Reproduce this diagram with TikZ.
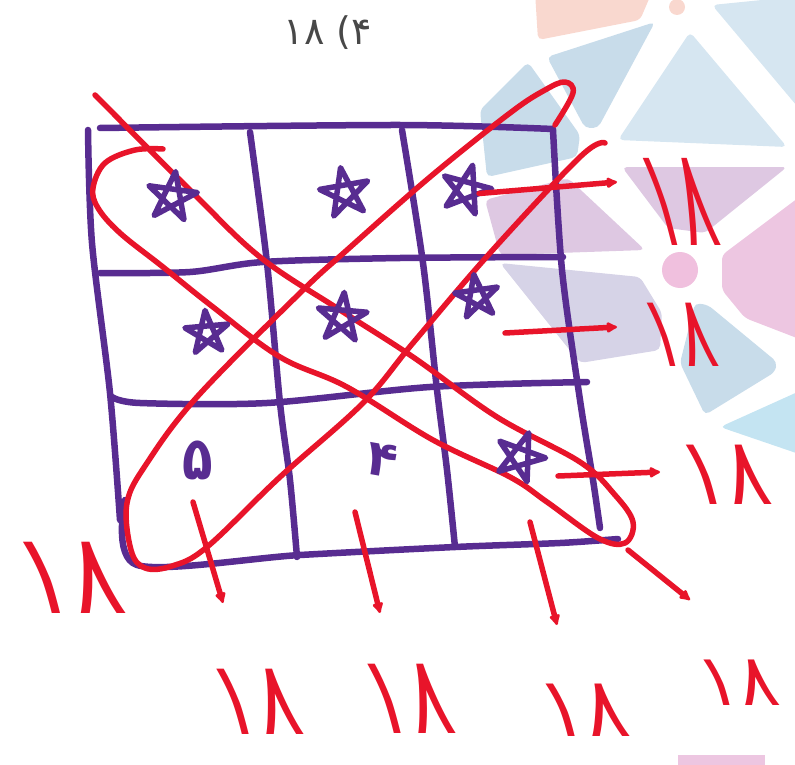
\documentclass[tikz,border=0pt]{standalone}
\usepackage{fontspec}
\usetikzlibrary{arrows.meta,shapes.geometric}
\TeXXeTstate=1
\newfontfamily\digitfont{DejaVu Sans}
\definecolor{penred}{RGB}{232,20,42}
\definecolor{penpurple}{RGB}{88,44,145}
\definecolor{titlegrey}{RGB}{72,72,72}
\definecolor{wmsalmon}{RGB}{249,216,207}
\definecolor{wmlight}{RGB}{214,230,241}
\definecolor{wmblue}{RGB}{200,220,234}
\definecolor{wmmauve}{RGB}{222,200,226}
\definecolor{wmlav}{RGB}{214,211,231}
\definecolor{wmpink}{RGB}{237,198,225}
\definecolor{wmhub}{RGB}{240,192,222}
\definecolor{wmcyan}{RGB}{196,228,242}

\begin{document}
\begin{tikzpicture}[x=1pt,y=-1pt,
   gridline/.style={draw=penpurple, line width=6.5pt, line cap=round, line join=round},
   redline/.style={draw=penred, line width=5.5pt, line cap=round, line join=round},
   arr/.style={redline, -{Latex[length=13pt,width=13pt,round]}},
   starmark/.style={star, star points=5, star point ratio=2.6, minimum size=50pt, inner sep=0pt},
   starpen/.style={draw=penpurple, line width=5.5pt, line join=round, line cap=round},
   sumlabel/.style={text=penred, font=\digitfont\fontsize{78}{78}\selectfont,
                    inner sep=0pt, xslant=-0.25},
   cellnum/.style={text=penpurple, font=\digitfont\bfseries\fontsize{50}{50}\selectfont, inner sep=0pt},
   wm/.style={rounded corners=5pt}]
  \useasboundingbox (0,0) rectangle (795,765);
  % faded logo behind the square
  \fill[wmsalmon, wm] (535,-8) -- (652,-8) -- (640,20) -- (538,40) -- cycle;
  \fill[wmsalmon] (677,7) circle (8pt);
  \fill[wmlight, wm] (712,5) -- (802,-4) -- (802,112) -- cycle;
  \fill[wmblue, wm] (547,57) -- (655,22) -- (598,128) -- (585,128) -- cycle;
  \fill[wmlight, wm] (690,32) -- (618,140) -- (787,147) -- cycle;
  \fill[wmblue, wm] (528,62) -- (480,110) -- (487,177) -- (577,157) -- (580,135) -- cycle;
  \fill[wmmauve, wm] (622,167) -- (787,167) -- (705,233) -- (668,228) -- cycle;
  \fill[wmmauve, wm] (485,200) -- (568,178) -- (645,250) -- (500,255) -- cycle;
  \fill[wmpink, wm] (722,255) -- (802,195) -- (802,340) -- (745,318) -- (722,290) -- cycle;
  \fill[wmhub] (680,270) circle (18pt);
  \fill[wmlav, wm] (500,263) -- (640,277) -- (662,313) -- (660,350) -- (580,363) -- cycle;
  \fill[wmblue, wm] (695,303) -- (708,305) -- (777,362) -- (775,372) -- (705,415) -- (680,363) -- cycle;
  \fill[wmcyan, wm] (720,427) -- (802,390) -- (802,455) -- cycle;
  \fill[wmpink] (678,755) rectangle (765,770);

  % title
  \node[text=titlegrey, font=\digitfont\fontsize{38}{38}\selectfont] (title) at (328,33)
     {\beginR (۴ ۱۸\endR};

  % hand-drawn 3x3 square
  \draw[gridline] plot[smooth] coordinates {(100,128) (400,125) (553,129)};
  \draw[gridline] plot[smooth] coordinates {(88,130) (92,243) (110,393) (120,520)};
  \draw[gridline] plot[smooth] coordinates {(553,130) (562,270) (580,400) (593,480) (600,528)};
  \draw[gridline] plot[smooth] coordinates {(125,500) (137,565) (300,555) (455,547) (560,543) (618,539)};
  \draw[gridline] plot[smooth] coordinates {(250,132) (267,263) (280,403) (290,480) (297,557)};
  \draw[gridline] plot[smooth] coordinates {(402,130) (423,263) (437,390) (447,470) (455,547)};
  \draw[gridline] plot[smooth] coordinates {(100,273) (190,272) (263,262) (400,258) (563,257)};
  \draw[gridline] plot[smooth] coordinates {(112,397) (140,403) (267,403) (430,387) (587,382)};

  % loops round the two diagonals
  \draw[redline] plot[smooth, tension=0.6] coordinates {(95,95) (190,190) (260,257) (340,310)
     (413,357) (497,417) (580,462) (615,495) (633,522) (625,543) (598,538) (547,502) (510,477)
     (433,440) (347,387) (280,357) (213,307) (163,267) (120,233) (98,208) (93,188) (105,163)
     (135,150) (163,149)};
  \draw[redline] plot[smooth, tension=0.6] coordinates {(605,143) (580,157) (490,253) (413,343)
     (363,403) (280,477) (207,547) (172,566) (145,568) (131,550) (127,503) (147,463) (197,397)
     (300,293) (347,250) (430,177) (510,113) (545,90) (565,82) (573,93) (555,125)};

  % cells
  \node[starmark, rotate=-8] (sTL) at (172,197) {};
  \node[starmark, rotate=10] (sTM) at (345,193) {};
  \node[starmark, rotate=-15] (sTR) at (466,190) {};
  \node[starmark, rotate=5, minimum size=44pt] (sML) at (207,333) {};
  \node[starmark, rotate=-5] (sMC) at (342,318) {};
  \node[starmark, rotate=8, minimum size=44pt] (sMR) at (477,297) {};
  \node[starmark, rotate=-20] (sBR) at (520,457) {};
  \foreach \s in {sTL,sTM,sTR,sML,sMC,sMR,sBR}
    \draw[starpen] (\s.outer point 1) -- (\s.outer point 3) -- (\s.outer point 5)
       -- (\s.outer point 2) -- (\s.outer point 4) -- cycle;
  \node[cellnum, yscale=1.2] (nBL) at (198,460) {۵};
  \node[cellnum, rotate=-10] (nBM) at (382,460) {۴};

  % sums
  \coordinate (r1b) at (617,182);
  \coordinate (r2a) at (505,333);
  \coordinate (r2b) at (617,327);
  \coordinate (r3a) at (558,476);
  \coordinate (r3b) at (660,472);
  \coordinate (c1a) at (193,502);
  \coordinate (c1b) at (223,603);
  \coordinate (c2a) at (355,512);
  \coordinate (c2b) at (380,613);
  \coordinate (c3a) at (530,522);
  \coordinate (c3b) at (557,625);
  \coordinate (da) at (628,550);
  \coordinate (db) at (690,600);
  \draw[arr] (sTR.east) -- (r1b);
  \draw[arr] (r2a) -- (r2b);
  \draw[arr] (r3a) -- (r3b);
  \draw[arr] (c1a) -- (c1b);
  \draw[arr] (c2a) -- (c2b);
  \draw[arr] (c3a) -- (c3b);
  \draw[arr] (da) -- (db);

  \node[sumlabel, scale=0.8, yscale=2.2] (row1) at (679,202) {۱۸};
  \node[sumlabel, scale=0.8, yscale=1.6] (row2) at (680,335) {۱۸};
  \node[sumlabel, yscale=1.2] (row3) at (725,475) {۱۸};
  \node[sumlabel, scale=1.2, yscale=1.2] (diag2) at (70,578) {۱۸};
  \node[sumlabel, yscale=1.32] (col1) at (256,702) {۱۸};
  \node[sumlabel, yscale=1.4] (col2) at (408,699) {۱۸};
  \node[sumlabel, yscale=1.06] (col3) at (584,710) {۱۸};
  \node[sumlabel, scale=0.92] (diag1) at (738,683) {۱۸};
\end{tikzpicture}
\end{document}
